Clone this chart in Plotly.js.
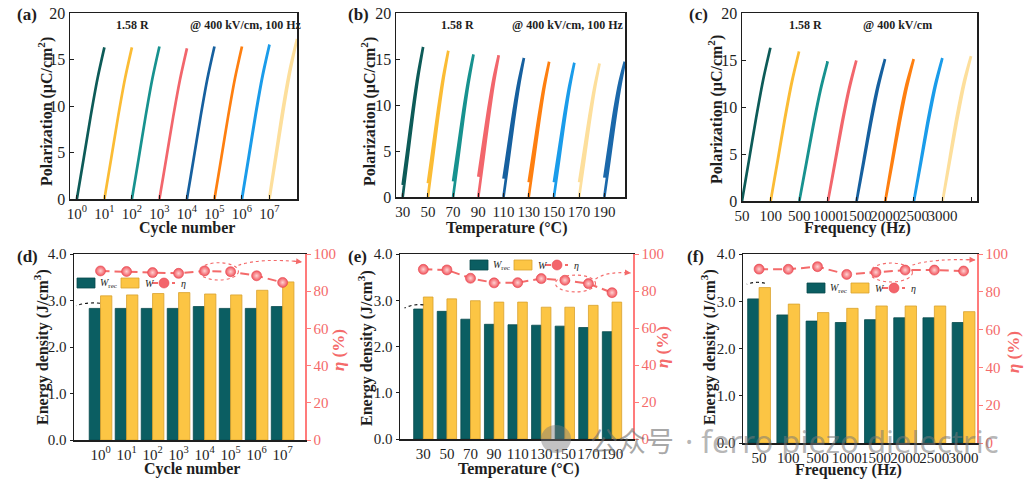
<!DOCTYPE html>
<html>
<head>
<meta charset="utf-8">
<script src="https://cdn.plot.ly/plotly-3.0.1.min.js"></script>
<style>
  html, body { margin: 0; padding: 0; background: #fff; }
  #chart { width: 1029px; height: 483px; }
</style>
</head>
<body>
<div id="chart"></div>
<script>
// ---------- tick labels / categories ----------
const CYCLE_LABELS = ['10<sup>0</sup>', '10<sup>1</sup>', '10<sup>2</sup>', '10<sup>3</sup>',
                      '10<sup>4</sup>', '10<sup>5</sup>', '10<sup>6</sup>', '10<sup>7</sup>'];
const TEMP_VALUES = [30, 50, 70, 90, 110, 130, 150, 170, 190];
const FREQ_LABELS = ['50', '100', '500', '1000', '1500', '2000', '2500', '3000'];

// ---------- unipolar P–E loops (µC/cm²) ----------
// maximum polarization, remanent polarization and mid-loop opening of each loop
const A_PMAX = [16.3, 16.3, 16.4, 16.2, 16.4, 16.4, 16.6, 17.2];
const A_PR   = [0, 0, 0, 0, 0, 0, 0.1, 0.3];
const A_GAP  = [0, 0, 0, 0, 0, 0, 0.01, 0.03];

const B_PMAX = [16.3, 15.9, 15.5, 15.4, 15.1, 14.7, 14.6, 14.5, 14.7];
const B_PR   = [1.3, 1.5, 1.7, 2.2, 2.0, 1.6, 1.6, 1.6, 2.1];
const B_GAP  = [0.01, 0.01, 0.01, 0.02, 0.02, 0.01, 0.01, 0.01, 0.04];

const C_PMAX = [16.3, 15.9, 14.85, 14.95, 15.1, 15.1, 15.2, 15.4];
const C_PR   = [0, 0, 0, 0, 0, 0, 0, 0];
const C_GAP  = [0, 0.01, 0.01, 0.02, 0.03, 0.04, 0.03, 0.04];

// shape of one loop branch: field fraction -> polarization fraction
const BRANCH_E    = [0, 0.25, 0.5, 0.75, 1];
const BRANCH_P    = [0, 0.27, 0.545, 0.795, 1];
const BRANCH_OPEN = [0, 0.7, 1, 0.7, 0];

// ---------- energy storage (J/cm³) and efficiency (%) ----------
const D_WREC = [2.83, 2.83, 2.83, 2.83, 2.87, 2.83, 2.83, 2.87];
const D_W    = [3.10, 3.12, 3.15, 3.17, 3.14, 3.12, 3.22, 3.40];
const D_ETA  = [90.9, 90.6, 90.0, 89.6, 90.9, 90.5, 88.3, 84.7];

const E_WREC = [2.81, 2.76, 2.59, 2.48, 2.47, 2.46, 2.44, 2.41, 2.32];
const E_W    = [3.07, 3.03, 2.99, 2.96, 2.96, 2.85, 2.85, 2.89, 2.96];
const E_ETA  = [91.7, 91.4, 86.9, 84.4, 84.5, 86.7, 85.8, 84.0, 79.1];

const F_WREC = [3.05, 2.71, 2.58, 2.55, 2.61, 2.65, 2.65, 2.55];
const F_W    = [3.29, 2.94, 2.76, 2.85, 2.90, 2.90, 2.90, 2.78];
const F_ETA  = [92.0, 91.9, 93.3, 89.2, 90.3, 91.5, 91.5, 91.0];

// ---------- styling ----------
const LOOP_COLORS = ['#0d5b58', '#fbbc35', '#17928f', '#f2666c', '#16609f',
                     '#fe7f10', '#1a9cea', '#fddf9c', '#1b68aa'];
const C_WREC = '#0b5e62', C_W = '#fcc544', C_ETA = '#f46a6a', C_ETA_AXIS = '#ff7b7b';
const SERIF = 'Liberation Serif, Times New Roman, serif';
const INK = '#1e1e1e';

const W = 1029, H = 483;
const fx = p => p / W;
const fy = p => 1 - p / H;
const idx = n => Array.from({length: n}, (_, i) => i);

// one closed loop: charging branch up, discharging branch back down to Pr
function loopTrace(x0, span, pmax, pr, gap, color, xa, ya) {
  const xs = BRANCH_E.map(e => x0 + e * span);
  const up = BRANCH_P.map(p => p * pmax);
  const down = BRANCH_P.map((p, i) => pr + (pmax - pr) * p + gap * pmax * BRANCH_OPEN[i]);
  return {
    type: 'scatter', mode: 'lines', xaxis: xa, yaxis: ya, showlegend: false,
    x: xs.concat(xs.slice().reverse()),
    y: up.concat(down.slice().reverse()),
    line: {color: color, width: 2.7, shape: 'spline', smoothing: 0.8},
    hoverinfo: 'skip'
  };
}

const traces = [];
A_PMAX.forEach((p, i) => traces.push(loopTrace(i, 1.0, p, A_PR[i], A_GAP[i], LOOP_COLORS[i], 'x', 'y')));
B_PMAX.forEach((p, i) => traces.push(loopTrace(TEMP_VALUES[i], 16.2, p, B_PR[i], B_GAP[i], LOOP_COLORS[i], 'x2', 'y2')));
C_PMAX.forEach((p, i) => traces.push(loopTrace(i, 0.99, p, C_PR[i], C_GAP[i], LOOP_COLORS[i], 'x3', 'y3')));

const ETA_MARKER = {size: 10, color: '#f0555d', line: {color: '#e8474f', width: 0.6},
                    gradient: {type: 'radial', color: '#ffd2d2'}};
const ETA_LINE = {color: C_ETA, width: 2, dash: '9px,5px'};

function energyTraces(wrec, w, eta, xa, ya, ya2, barW) {
  const xs = idx(wrec.length);
  return [
    {type: 'bar', x: xs, y: wrec, width: barW, offset: -barW, xaxis: xa, yaxis: ya,
     name: 'W_rec', showlegend: false, marker: {color: C_WREC, line: {color: '#084a4d', width: 0.8}}},
    {type: 'bar', x: xs, y: w, width: barW, offset: 0, xaxis: xa, yaxis: ya,
     name: 'W', showlegend: false, marker: {color: C_W, line: {color: '#d9a22f', width: 0.8}}},
    {type: 'scatter', mode: 'lines+markers', x: xs, y: eta, xaxis: xa, yaxis: ya2,
     name: 'η', showlegend: false, line: ETA_LINE, marker: ETA_MARKER, cliponaxis: false}
  ];
}
traces.push(...energyTraces(D_WREC, D_W, D_ETA, 'x4', 'y4', 'y7', 0.435));
traces.push(...energyTraces(E_WREC, E_W, E_ETA, 'x5', 'y5', 'y8', 0.41));
traces.push(...energyTraces(F_WREC, F_W, F_ETA, 'x6', 'y6', 'y9', 0.39));

// ---------- axes ----------
const tickFontTop = {family: SERIF, size: 16, color: INK};
const tickFontBot = {family: SERIF, size: 15, color: INK};
function xTop(dom, anchor, extra) {
  return Object.assign({
    domain: dom, anchor: anchor, showline: true, mirror: true, linecolor: INK, linewidth: 1.5,
    ticks: 'inside', ticklen: 4, tickcolor: INK, tickangle: 0, tickfont: {family: SERIF, size: 15, color: INK},
    showgrid: false, zeroline: false, automargin: false
  }, extra);
}
function yTop(dom, anchor) {
  return {
    domain: dom, anchor: anchor, range: [0, 20], dtick: 5, showline: true, mirror: true,
    linecolor: INK, linewidth: 1.5, ticks: 'inside', ticklen: 4, tickcolor: INK,
    tickfont: tickFontTop, showgrid: false, zeroline: false, automargin: false
  };
}
function xBot(dom, anchor, range, labels) {
  return {
    domain: dom, anchor: anchor, range: range, tickmode: 'array', tickvals: idx(labels.length),
    ticktext: labels, ticks: '', tickangle: 0, tickfont: tickFontBot, showline: true, mirror: true,
    linecolor: INK, linewidth: 1.5, showgrid: false, zeroline: false, automargin: false
  };
}
function yBot(dom, anchor) {
  return {
    domain: dom, anchor: anchor, range: [0, 4], dtick: 1, tickformat: '.1f', showline: true,
    linecolor: INK, linewidth: 1.5, ticks: 'outside', ticklen: 3, tickcolor: INK,
    tickfont: tickFontBot, showgrid: false, zeroline: false, automargin: false
  };
}
function yEta(over, anchor) {
  return {
    overlaying: over, anchor: anchor, side: 'right', range: [0, 100], dtick: 20,
    showline: true, linecolor: C_ETA_AXIS, linewidth: 1.5, ticks: 'outside', ticklen: 4,
    tickcolor: C_ETA_AXIS, tickfont: {family: SERIF, size: 15, color: C_ETA},
    showgrid: false, zeroline: false, automargin: false
  };
}

// ---------- shapes and text ----------
const shapes = [], notes = [];

function text(str, xpx, ypx, size, extra) {
  notes.push(Object.assign({xref: 'paper', yref: 'paper', x: fx(xpx), y: fy(ypx),
    xanchor: 'center', yanchor: 'middle', text: str, showarrow: false,
    font: {family: SERIF, size: size, color: INK}}, extra || {}));
}
function vtext(str, xpx, ypx, size, color) {
  text(str, xpx, ypx, size, {textangle: -90, font: {family: SERIF, size: size, color: color || INK}});
}

// dotted guide ellipse and dotted curved arrow (data coordinates of the given axes)
function ellipse(xr, yr, x0, x1, y0, y1) {
  shapes.push({type: 'circle', xref: xr, yref: yr, x0, x1, y0, y1,
               line: {color: C_ETA, width: 1.1, dash: 'dot'}});
}
function arrow(xr, yr, x0, y0, cx, cy, x1, y1, color) {
  shapes.push({type: 'path', xref: xr, yref: yr, path: `M${x0},${y0} Q${cx},${cy} ${x1},${y1}`,
               line: {color: color, width: 1.1, dash: 'dot'}});
  notes.push({xref: xr, yref: yr, axref: xr, ayref: yr, x: x1, y: y1,
              ax: x1 - (x1 - cx) * 0.25, ay: y1 - (y1 - cy) * 0.25,
              text: '', showarrow: true, arrowhead: 2, arrowsize: 1.1, arrowwidth: 1.1,
              arrowcolor: color, standoff: 0});
}
ellipse('x4', 'y7', 3.8, 5.3, 86, 95.3);
arrow('x4', 'y7', 5.3, 94, 6.2, 98, 7.75, 95.7, C_ETA);
arrow('x4', 'y4', -0.02, 2.94, -0.5, 2.97, -0.94, 2.89, '#111');

ellipse('x5', 'y8', 5.6, 7.3, 79.5, 88.6);
arrow('x5', 'y8', 7.3, 86.5, 7.8, 90.8, 8.8, 89.7, C_ETA);
arrow('x5', 'y5', 0.0, 2.9, -0.4, 2.93, -0.8, 2.83, '#111');

ellipse('x6', 'y9', 3.8, 5.25, 85.2, 95.2);
arrow('x6', 'y9', 5.25, 94.2, 6.0, 97.8, 7.41, 96.8, C_ETA);
arrow('x6', 'y6', 0.2, 3.38, -0.1, 3.43, -0.42, 3.36, '#111');

// legend block: two bar swatches and the dashed efficiency line with its marker
function legendBlock(left, cy) {
  const box = (x0, color, edge) => shapes.push({type: 'rect', xref: 'paper', yref: 'paper',
    x0: fx(x0), x1: fx(x0 + 18), y0: fy(cy + 5), y1: fy(cy - 5),
    fillcolor: color, line: {color: edge, width: 0.8}});
  box(left, C_WREC, '#084a4d');
  text('<i>W</i><sub>rec</sub>', left + 21, cy, 10, {xanchor: 'left'});
  box(left + 44, C_W, '#d9a22f');
  text('<i>W</i>', left + 66, cy, 10, {xanchor: 'left'});
  shapes.push({type: 'line', xref: 'paper', yref: 'paper', x0: fx(left + 75), x1: fx(left + 98),
               y0: fy(cy), y1: fy(cy), line: {color: C_ETA, width: 2, dash: '6px,4px'}});
  shapes.push({type: 'circle', xref: 'paper', yref: 'paper', x0: fx(left + 82), x1: fx(left + 92),
               y0: fy(cy + 5), y1: fy(cy - 5), fillcolor: '#f3646b', line: {color: '#e8474f', width: 0.6}});
  text('<i>η</i>', left + 102, cy, 10, {xanchor: 'left'});
}
legendBlock(77, 283);
legendBlock(470, 265);
legendBlock(807, 288);

// panel letters
text('<b>(a)</b>', 27, 15, 17);
text('<b>(b)</b>', 358, 15, 17);
text('<b>(c)</b>', 698, 15, 17);
text('<b>(d)</b>', 27, 256, 17);
text('<b>(e)</b>', 357, 256, 17);
text('<b>(f)</b>', 695, 256, 17);

// conditions
text('<b>1.58 R</b>', 132, 25, 12);
text('<b>@ 400 kV/cm, 100 Hz</b>', 245, 25, 12);
text('<b>1.58 R</b>', 457, 25, 12);
text('<b>@ 400 kV/cm, 100 Hz</b>', 567, 25, 12);
text('<b>1.58 R</b>', 805, 25, 12);
text('<b>@ 400 kV/cm</b>', 897, 25, 12);

// axis titles
text('<b>Cycle number</b>', 187, 228, 16);
text('<b>Temperature (°C)</b>', 506, 228, 16);
text('<b>Frequency (Hz)</b>', 857, 228, 16);
text('<b>Cycle number</b>', 192, 469, 16);
text('<b>Temperature (°C)</b>', 518, 469, 16);
text('<b>Frequency (Hz)</b>', 848, 470, 16);
vtext('<b>Polarization (μC/cm<sup>2</sup>)</b>', 45, 112, 16);
vtext('<b>Polarization (μC/cm<sup>2</sup>)</b>', 368, 112, 16);
vtext('<b>Polarization (μC/cm<sup>2</sup>)</b>', 715, 110, 16);
vtext('<b>Energy density (J/cm<sup>3</sup>)</b>', 41, 347, 16);
vtext('<b>Energy density (J/cm<sup>3</sup>)</b>', 365, 348, 16);
vtext('<b>Energy density (J/cm<sup>3</sup>)</b>', 708, 347, 16);
vtext('<b><i>η</i> (%)</b>', 338, 350, 17, C_ETA);
vtext('<b><i>η</i> (%)</b>', 662, 347, 17, C_ETA);
vtext('<b><i>η</i> (%)</b>', 1013, 352, 17, C_ETA);

// channel watermark
shapes.push({type: 'circle', xref: 'paper', yref: 'paper', x0: fx(541), x1: fx(571), y0: fy(453), y1: fy(425),
             fillcolor: 'rgba(120,120,120,0.45)', line: {width: 0}, layer: 'above'});
text('公众号', 588, 440, 28, {xanchor: 'left',
     font: {family: 'Noto Sans CJK SC, sans-serif', size: 28, color: 'rgba(110,110,110,0.6)'}});
text('· ferro piezo dielectric', 683, 441, 31, {xanchor: 'left',
     font: {family: 'Noto Sans, sans-serif', size: 31, color: 'rgba(120,120,120,0.55)'}});

const layout = {
  width: W, height: H, margin: {l: 0, r: 0, t: 0, b: 0, autoexpand: false},
  paper_bgcolor: '#fff', plot_bgcolor: 'rgba(0,0,0,0)', barmode: 'overlay', showlegend: false,
  font: {family: SERIF, color: INK},
  xaxis: xTop([fx(70), fx(297)], 'y', {range: [-0.25, 8], tickmode: 'array', tickvals: idx(9),
               ticktext: CYCLE_LABELS.concat([''])}),
  yaxis: yTop([fy(199), fy(13)], 'x'),
  xaxis2: xTop([fx(396), fx(625)], 'y2', {range: [24.7, 206.4], tickmode: 'array', tickvals: TEMP_VALUES}),
  yaxis2: yTop([fy(197), fy(13)], 'x2'),
  xaxis3: xTop([fx(742), fx(977)], 'y3', {range: [0, 8.2], tickmode: 'array', tickvals: idx(9),
               ticktext: FREQ_LABELS.concat([''])}),
  yaxis3: yTop([fy(201), fy(13)], 'x3'),

  xaxis4: xBot([fx(74), fx(305)], 'y4', [-1.02, 7.86], CYCLE_LABELS),
  yaxis4: yBot([fy(440), fy(254)], 'x4'),
  yaxis7: yEta('y4', 'x4'),
  xaxis5: xBot([fx(400), fx(633)], 'y5', [-0.99, 8.89], TEMP_VALUES.map(String)),
  yaxis5: yBot([fy(439), fy(254)], 'x5'),
  yaxis8: yEta('y5', 'x5'),
  xaxis6: xBot([fx(743), fx(977)], 'y6', [-0.55, 7.46], FREQ_LABELS),
  yaxis6: yBot([fy(443), fy(254)], 'x6'),
  yaxis9: yEta('y6', 'x6'),

  shapes: shapes,
  annotations: notes
};

Plotly.newPlot('chart', traces, layout, {displayModeBar: false, staticPlot: true});
</script>
</body>
</html>
